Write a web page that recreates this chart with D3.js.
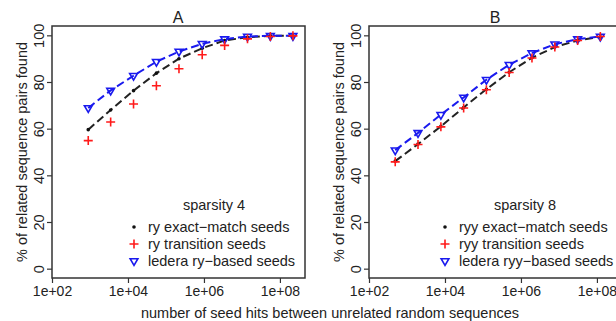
<!DOCTYPE html>
<html>
<head>
<meta charset="utf-8">
<script src="https://cdn.jsdelivr.net/npm/d3@7"></script>
<style>
  body { margin: 0; background: #fff; }
  text { font-family: "Liberation Sans", Arial, sans-serif; fill: #222; }
</style>
</head>
<body>
<div id="chart"></div>
<script>
// panel A: sparsity 4
const hitsA = [9e2, 3.5e3, 1.4e4, 5.6e4, 2.2e5, 9e5, 3.5e6, 1.4e7, 5.6e7, 2.2e8];
const exactA = [59.8, 68.2, 76.5, 84.0, 90.2, 94.7, 98.0, 99.4, 100, 100];
const transA = [55.1, 63.1, 70.8, 78.6, 85.9, 91.9, 95.9, 98.7, 99.7, 100];
const lederaA = [69.1, 76.6, 82.9, 88.9, 93.3, 96.6, 98.6, 99.7, 100, 100];

// panel B: sparsity 8
const hitsB = [490, 1950, 7800, 3.1e4, 1.23e5, 4.9e5, 1.95e6, 7.8e6, 3.1e7, 1.23e8];
const exactB = [46.3, 53.6, 61.2, 69.3, 77.1, 84.4, 90.6, 95.2, 98.0, 99.6];
const transB = [46.0, 53.4, 61.0, 69.1, 76.9, 84.3, 90.5, 95.2, 98.0, 99.7];
const lederaB = [51.0, 58.4, 66.2, 73.6, 81.2, 87.6, 92.6, 96.4, 98.6, 99.7];

const xTicks = [1e2, 1e4, 1e6, 1e8];
const xTickLabels = ['1e+02', '1e+04', '1e+06', '1e+08'];
const yTicks = [0, 20, 40, 60, 80, 100];

const panels = [
	{ title: 'A', left: 52, legendX: 82, sparsity: 'sparsity 4', hits: hitsA, exact: exactA, trans: transA, ledera: lederaA,
		names: ['ry exact\u2212match seeds', 'ry transition seeds', 'ledera ry\u2212based seeds'] },
	{ title: 'B', left: 369, legendX: 76, sparsity: 'sparsity 8', hits: hitsB, exact: exactB, trans: transB, ledera: lederaB,
		names: ['ryy exact\u2212match seeds', 'ryy transition seeds', 'ledera ryy\u2212based seeds'] },
];

const width = 616;
const height = 321;
const plotW = 253;
const plotTop = 26;
const plotBottom = 278;
const fontSize = '14.5px';

const svg = d3.select('#chart')
	.append('svg')
	.attr('width', width)
	.attr('height', height);

const y = d3.scaleLinear().domain([-4, 104]).range([plotBottom + 0.5, plotTop + 0.5]);

panels.forEach((p) => {
	const x = d3.scaleLog()
		.domain([1e2, Math.pow(10, 8.66)])
		.range([p.left, p.left + plotW]);

	const g = svg.append('g');

	// box
	g.append('rect')
		.attr('x', p.left)
		.attr('y', plotTop)
		.attr('width', plotW)
		.attr('height', plotBottom - plotTop)
		.attr('fill', 'none')
		.attr('stroke', '#333')
		.attr('stroke-width', 1.5);

	// x axis
	const xAxis = g.append('g')
		.attr('transform', `translate(0,${plotBottom})`)
		.call(d3.axisBottom(x).tickValues(xTicks).tickFormat((d, i) => xTickLabels[i]).tickSize(5).tickPadding(3));
	xAxis.select('.domain').remove();
	xAxis.selectAll('line').attr('stroke', '#333').attr('stroke-width', 1.2);
	xAxis.selectAll('text').style('font-size', '14px').attr('fill', '#222');

	// y axis, labels parallel to the axis
	const yAxis = g.append('g')
		.attr('transform', `translate(${p.left},0)`)
		.call(d3.axisLeft(y).tickValues(yTicks).tickSize(5).tickPadding(0));
	yAxis.select('.domain').remove();
	yAxis.selectAll('line').attr('stroke', '#333').attr('stroke-width', 1.2);
	yAxis.selectAll('.tick').attr('transform', null);
	yAxis.selectAll('.tick line').attr('y1', (d) => y(d)).attr('y2', (d) => y(d));
	yAxis.selectAll('text')
		.attr('x', null)
		.attr('dy', null)
		.attr('y', 0)
		.attr('text-anchor', 'middle')
		.attr('transform', (d) => `translate(-8,${y(d)}) rotate(-90)`)
		.style('font-size', fontSize)
		.attr('fill', '#222');

	g.append('text')
		.attr('transform', `translate(${p.left - 25},${(plotTop + plotBottom) / 2}) rotate(-90)`)
		.attr('text-anchor', 'middle')
		.style('font-size', fontSize)
		.text('% of related sequence pairs found');

	g.append('text')
		.attr('x', p.left + 126)
		.attr('y', 23)
		.attr('text-anchor', 'middle')
		.style('font-size', '16px')
		.text(p.title);

	const line = d3.line()
		.x((d, i) => x(p.hits[i]))
		.y((d) => y(d));

	g.append('path')
		.attr('d', line(p.exact))
		.attr('fill', 'none')
		.attr('stroke', '#222')
		.attr('stroke-width', 2)
		.attr('stroke-dasharray', '8,4');

	g.append('path')
		.attr('d', line(p.ledera))
		.attr('fill', 'none')
		.attr('stroke', '#1a1aee')
		.attr('stroke-width', 2)
		.attr('stroke-dasharray', '8,4');

	g.selectAll('.dot')
		.data(p.exact)
		.join('circle')
		.attr('cx', (d, i) => x(p.hits[i]))
		.attr('cy', (d) => y(d))
		.attr('r', 1.8)
		.attr('fill', '#111');

	const tri = d3.symbol().type(d3.symbolTriangle).size(26);
	g.selectAll('.tri')
		.data(p.ledera)
		.join('path')
		.attr('d', tri)
		.attr('transform', (d, i) => `translate(${x(p.hits[i])},${y(d)}) rotate(180)`)
		.attr('fill', 'none')
		.attr('stroke', '#1a1aee')
		.attr('stroke-width', 1.6);

	const plus = 4.5;
	g.selectAll('.plus')
		.data(p.trans)
		.join('path')
		.attr('d', (d, i) => {
			const cx = x(p.hits[i]);
			const cy = y(d);
			return `M${cx - plus},${cy}H${cx + plus}M${cx},${cy - plus}V${cy + plus}`;
		})
		.attr('stroke', '#ff1a1a')
		.attr('stroke-width', 1.6);

	// legend
	const lx = p.left + p.legendX;
	g.append('text')
		.attr('x', lx + 80)
		.attr('y', 210)
		.attr('text-anchor', 'middle')
		.style('font-size', fontSize)
		.text(p.sparsity);

	const rows = g.selectAll('.leg')
		.data(p.names)
		.join('g')
		.attr('transform', (d, i) => `translate(${lx},${227 + i * 17})`);

	rows.append('text')
		.attr('x', 14)
		.attr('y', 5)
		.style('font-size', fontSize)
		.text((d) => d);

	rows.filter((d, i) => i === 0).append('circle').attr('r', 1.8).attr('fill', '#111');
	rows.filter((d, i) => i === 1).append('path')
		.attr('d', `M${-plus},0H${plus}M0,${-plus}V${plus}`)
		.attr('stroke', '#ff1a1a')
		.attr('stroke-width', 1.6);
	rows.filter((d, i) => i === 2).append('path')
		.attr('d', tri)
		.attr('transform', 'rotate(180)')
		.attr('fill', 'none')
		.attr('stroke', '#1a1aee')
		.attr('stroke-width', 1.6);
});

svg.append('text')
	.attr('x', 330)
	.attr('y', 318)
	.attr('text-anchor', 'middle')
	.style('font-size', fontSize)
	.text('number of seed hits between unrelated random sequences');
</script>
</body>
</html>
